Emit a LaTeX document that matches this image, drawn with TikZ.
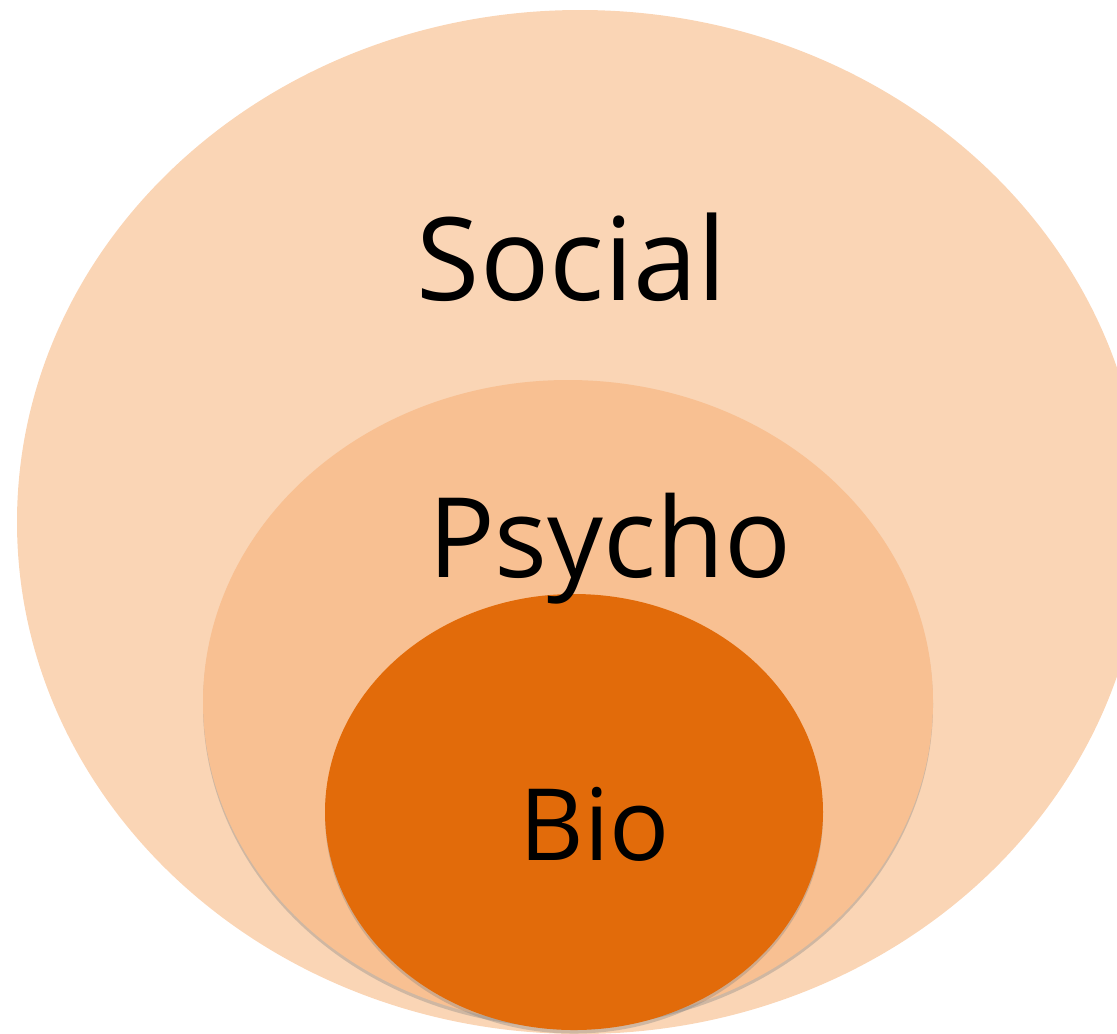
\documentclass[tikz,border=0pt]{standalone}
\usepackage{fontspec}
\setmainfont{Open Sans}
\usepackage{tikz}
\usetikzlibrary{shapes.geometric, shadows}

\definecolor{socialcol}{HTML}{FAD5B5}
\definecolor{psychocol}{HTML}{F8C092}
\definecolor{biocol}{HTML}{E26B0A}

\begin{document}
\begin{tikzpicture}[layer/.style={ellipse, inner sep=0pt},
    shade/.style={drop shadow={shadow xshift=0pt, shadow yshift=-2.5pt, opacity=0.35}},
    label/.style={anchor=base, inner sep=0pt}]
      \useasboundingbox (0,0) rectangle (27.925,-25.825);
      \clip (0,0) rectangle (27.925,-25.825);
      \node[layer, fill=socialcol, minimum width=28.15cm, minimum height=25.6cm] (social) at (14.5,-13.05) {};
      \node[layer, shade, fill=psychocol, minimum width=18.25cm, minimum height=16.1cm] (psycho) at (14.2,-17.55) {};
      \node[layer, shade, fill=biocol, minimum width=12.45cm, minimum height=10.9cm] (bio) at (14.35,-20.3) {};
      \node[label, font=\fontsize{82}{90}\selectfont] (socialtext) at (14.3,-7.5) {Social};
      \node[label, font=\fontsize{79}{86}\selectfont] (psychotext) at (15.25,-14.425) {Psycho};
      \node[label, font=\fontsize{71}{80}\selectfont] (biotext) at (14.875,-21.5) {Bio};
     \end{tikzpicture}
\end{document}
